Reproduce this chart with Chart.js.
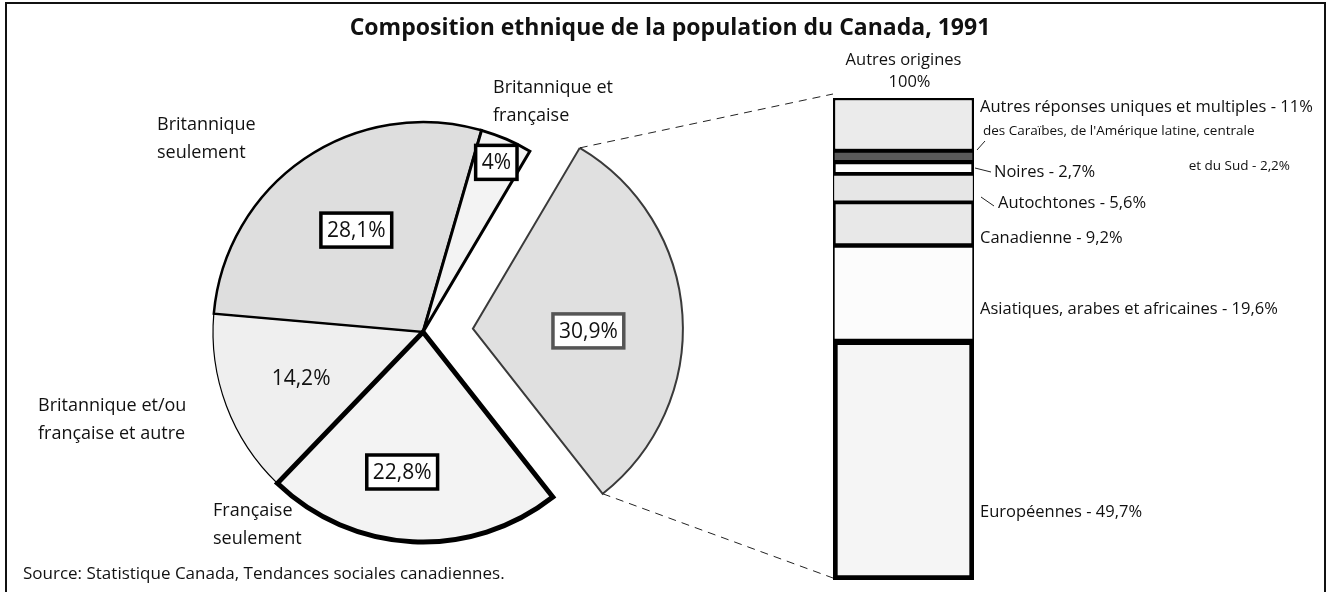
<!DOCTYPE html>
<html>
<head>
<meta charset="utf-8">
<title>Composition ethnique de la population du Canada, 1991</title>
<script src="https://cdn.jsdelivr.net/npm/chart.js@4.4.0/dist/chart.umd.min.js"></script>
<style>
  html, body { margin: 0; padding: 0; background: #fff; }
  #wrap { position: relative; width: 1327px; height: 592px; overflow: hidden; }
  canvas { position: absolute; left: 0; top: 0; }
</style>
</head>
<body>
<div id="wrap">
  <canvas id="pie" width="1327" height="592"></canvas>
  <canvas id="bar" width="1327" height="592"></canvas>
</div>
<script>
// pie: clockwise from the left slice
const pieLabels = [
  "Britannique et/ou française et autre",
  "Britannique seulement",
  "Britannique et française",
  "Autres origines",
  "Française seulement",
];
const pieValues = [14.2, 28.1, 4, 30.9, 22.8];

// stacked bar: bottom to top
const barLabels = [
  "Européennes",
  "Asiatiques, arabes et africaines",
  "Canadienne",
  "Autochtones",
  "Noires",
  "des Caraïbes, de l'Amérique latine, centrale et du Sud",
  "Autres réponses uniques et multiples",
];
const barValues = [49.7, 19.6, 9.2, 5.6, 2.7, 2.2, 11];
const barTotal = 100;

const FONT = "'Open Sans', 'Noto Sans', sans-serif";

function pct(v) {
  return String(v).replace(".", ",") + "%";
}

const pieColors = ["#efefef", "#dedede", "#f3f3f3", "#e0e0e0", "#f3f3f3"];
const pieBorderColors = ["#000", "#000", "#000", "#3a3a3a", "#000"];
const pieBorderWidths = [1.2, 2.5, 3, 2, 5];

// move one slice out along its middle angle
const explodePlugin = {
  id: "explode",
  afterDatasetsUpdate(chart, args, opts) {
    const arc = chart.getDatasetMeta(0).data[opts.index];
    const mid = (arc.startAngle + arc.endAngle) / 2;
    arc.x += Math.cos(mid) * opts.distance;
    arc.y += Math.sin(mid) * opts.distance;
  },
};

function textBox(ctx, text, x, y, boxColor) {
  ctx.font = "21px " + FONT;
  const w = ctx.measureText(text).width;
  if (boxColor) {
    ctx.fillStyle = "#fff";
    ctx.fillRect(x - w / 2 - 6, y - 17, w + 12, 34);
    ctx.lineWidth = 3.5;
    ctx.strokeStyle = boxColor;
    ctx.strokeRect(x - w / 2 - 6, y - 17, w + 12, 34);
  }
  ctx.fillStyle = "#111";
  ctx.textAlign = "center";
  ctx.textBaseline = "middle";
  ctx.fillText(text, x, y + 1);
}

const pieTextPlugin = {
  id: "pieText",
  afterDatasetsDraw(chart, args, opts) {
    const ctx = chart.ctx;
    const arcs = chart.getDatasetMeta(0).data;
    ctx.save();

    // value labels inside the slices
    arcs.forEach((arc, i) => {
      const a = (arc.startAngle + arc.endAngle) / 2 + (opts.shift[i] * Math.PI) / 180;
      const r = arc.outerRadius * opts.radius[i];
      textBox(ctx, pct(pieValues[i]), arc.x + Math.cos(a) * r, arc.y + Math.sin(a) * r, opts.box[i]);
    });

    // category names around the pie
    ctx.font = "18px " + FONT;
    ctx.textAlign = "left";
    ctx.textBaseline = "middle";
    ctx.fillStyle = "#111";
    opts.names.forEach((n) => {
      n.lines.forEach((line, j) => ctx.fillText(line, n.x, n.y + j * 28));
    });

    // title, source, frame
    ctx.font = "bold 23px " + FONT;
    ctx.textAlign = "center";
    ctx.fillText("Composition ethnique de la population du Canada, 1991", 670, 28);
    ctx.font = "17px " + FONT;
    ctx.textAlign = "left";
    ctx.fillText("Source: Statistique Canada, Tendances sociales canadiennes.", 23, 574);
    ctx.lineWidth = 2;
    ctx.strokeStyle = "#111";
    ctx.strokeRect(6, 3, 1319, 620);
    ctx.restore();
  },
};

const pieChart = new Chart(document.getElementById("pie"), {
  type: "pie",
  data: {
    labels: pieLabels,
    datasets: [
      {
        data: pieValues,
        backgroundColor: pieColors,
        borderColor: pieBorderColors,
        borderWidth: pieBorderWidths,
        borderJoinStyle: "miter",
      },
    ],
  },
  options: {
    responsive: false,
    animation: false,
    events: [],
    rotation: 223.9,
    radius: 210,
    layout: { padding: { left: 0, right: 481, top: 72, bottom: 0 } },
    plugins: {
      legend: { display: false },
      tooltip: { enabled: false },
      explode: { index: 3, distance: 50 },
      pieText: {
        radius: [0.62, 0.58, 0.88, 0.55, 0.674],
        shift: [0, 1.2, 0, 4.9, 5.6],
        box: [null, "#000", "#000", "#555", "#000"],
        names: [
          { lines: ["Britannique et/ou", "française et autre"], x: 38, y: 406 },
          { lines: ["Britannique", "seulement"], x: 157, y: 125 },
          { lines: ["Britannique et", "française"], x: 493, y: 88 },
          { lines: ["Française", "seulement"], x: 213, y: 511 },
        ],
      },
    },
  },
  plugins: [explodePlugin, pieTextPlugin],
});

const barColors = ["#f5f5f5", "#fcfcfc", "#e8e8e8", "#e6e6e6", "#ffffff", "#5a5a5a", "#ebebeb"];
const barBorderWidths = [5, 2, 3, 1.5, 3, 2, 2.5];

const barTextPlugin = {
  id: "barText",
  afterDatasetsDraw(chart, args, opts) {
    const ctx = chart.ctx;
    const top = chart.getDatasetMeta(barValues.length - 1).data[0];
    const bottom = chart.getDatasetMeta(0).data[0];
    const left = top.x - top.width / 2;
    ctx.save();

    // dashed links from the pulled-out slice to the bar
    const arc = pieChart.getDatasetMeta(0).data[3];
    const r = arc.outerRadius;
    ctx.setLineDash([8, 6]);
    ctx.lineWidth = 1;
    ctx.strokeStyle = "#222";
    ctx.beginPath();
    ctx.moveTo(arc.x + Math.cos(arc.startAngle) * r, arc.y + Math.sin(arc.startAngle) * r);
    ctx.lineTo(left, top.y - 4);
    ctx.moveTo(arc.x + Math.cos(arc.endAngle) * r, arc.y + Math.sin(arc.endAngle) * r);
    ctx.lineTo(left, bottom.base - 2);
    ctx.stroke();
    ctx.setLineDash([]);

    // small leader ticks
    ctx.lineWidth = 1;
    opts.ticks.forEach((t) => {
      ctx.beginPath();
      ctx.moveTo(t[0], t[1]);
      ctx.lineTo(t[2], t[3]);
      ctx.stroke();
    });

    ctx.fillStyle = "#111";
    ctx.textBaseline = "middle";
    ctx.textAlign = "center";
    ctx.font = "16.5px " + FONT;
    ctx.fillText(chart.data.labels[0], top.x, 60);
    ctx.fillText(pct(barTotal), top.x + 6, 82);

    ctx.textAlign = "left";
    opts.rows.forEach((row) => {
      const i = row.index;
      ctx.fillText(barLabels[i] + " - " + pct(barValues[i]), row.x, row.y);
    });

    // the long label is split over two lines, smaller
    ctx.font = "13.5px " + FONT;
    ctx.fillText("des Caraïbes, de l'Amérique latine, centrale", 983, 131);
    ctx.textAlign = "right";
    ctx.fillText("et du Sud - " + pct(barValues[5]), 1290, 166);
    ctx.restore();
  },
};

new Chart(document.getElementById("bar"), {
  type: "bar",
  data: {
    labels: ["Autres origines"],
    datasets: barLabels.map((label, i) => ({
      label: label,
      data: [barValues[i]],
      backgroundColor: barColors[i],
      borderColor: "#000",
      borderWidth: barBorderWidths[i],
      borderSkipped: false,
      barPercentage: 1,
      categoryPercentage: 1,
    })),
  },
  options: {
    responsive: false,
    animation: false,
    events: [],
    layout: { padding: { left: 833, right: 353, top: 98, bottom: 12 } },
    scales: {
      x: { stacked: true, display: false },
      y: { stacked: true, display: false, min: 0, max: barTotal },
    },
    plugins: {
      legend: { display: false },
      tooltip: { enabled: false },
      barText: {
        rows: [
          { index: 6, x: 980, y: 107 },
          { index: 4, x: 994, y: 172 },
          { index: 3, x: 998, y: 203 },
          { index: 2, x: 980, y: 238 },
          { index: 1, x: 980, y: 309 },
          { index: 0, x: 980, y: 512 },
        ],
        ticks: [
          [977, 150, 985, 141],
          [975, 168, 991, 172],
          [981, 197, 994, 206],
        ],
      },
    },
  },
  plugins: [barTextPlugin],
});
</script>
</body>
</html>
